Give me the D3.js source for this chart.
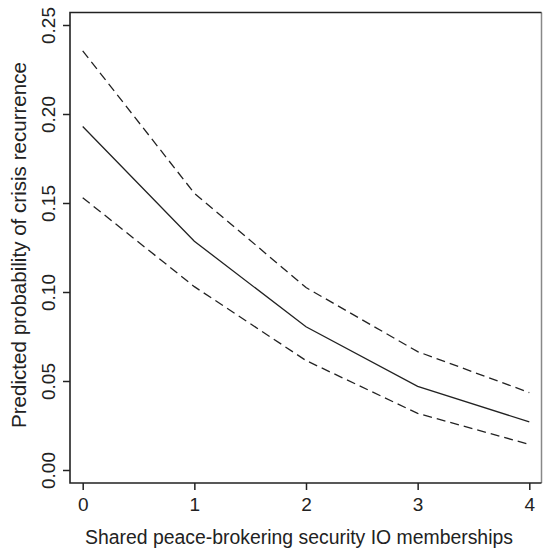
<!DOCTYPE html>
<html>
<head>
<meta charset="utf-8">
<script src="https://cdn.jsdelivr.net/npm/d3@7"></script>
<style>
    body { margin: 0; background: #fff; }
    text { font-family: "Liberation Sans", Arial, sans-serif; fill: #222; }
</style>
</head>
<body>
<div id="chart"></div>
<script>
'use strict';

// shared memberships on the x axis
let memberships = [0, 1, 2, 3, 4];
// predicted probability and the 95% bounds
let predicted = [0.193, 0.1285, 0.0805, 0.047, 0.027];
let upperBound = [0.2355, 0.1555, 0.1025, 0.0665, 0.0435];
let lowerBound = [0.153, 0.103, 0.0615, 0.0318, 0.0144];

let xTicks = [0, 1, 2, 3, 4];
let yTicks = [0, 0.05, 0.10, 0.15, 0.20, 0.25];

let xTitle = 'Shared peace-brokering security IO memberships';
let yTitle = 'Predicted probability of crisis recurrence';

let width = 547,
    height = 551;
let box = {left: 70, right: 541.5, top: 12.5, bottom: 483};

let svg = d3.select('#chart')
    .append('svg')
    .attr('width', width)
    .attr('height', height);

let x = d3.scaleLinear()
    .domain([0, 4])
    .range([82.7, 529.3]);

let y = d3.scaleLinear()
    .domain([0, 0.25])
    .range([470, 25]);

// frame, right side is lighter like in the original
svg.append('line')
    .attr('x1', box.right).attr('x2', box.right)
    .attr('y1', box.top).attr('y2', box.bottom)
    .attr('stroke', '#888')
    .attr('stroke-width', 1.5);
svg.append('path')
    .attr('d', 'M' + box.right + ',' + box.top + 'H' + box.left + 'V' + box.bottom + 'H' + box.right)
    .attr('fill', 'none')
    .attr('stroke', '#222')
    .attr('stroke-width', 1.6);

// y axis ticks
let yAxis = svg.append('g')
    .attr('transform', 'translate(' + box.left + ',0)')
    .call(d3.axisLeft(y)
        .tickValues(yTicks)
        .tickSize(7)
        .tickPadding(0)
        .tickFormat(d3.format('.2f')));
yAxis.select('.domain').remove();
yAxis.selectAll('.tick line')
    .attr('stroke', '#222')
    .attr('stroke-width', 1.5);
yAxis.selectAll('.tick text')
    .attr('x', 0)
    .attr('dy', 0)
    .attr('text-anchor', 'middle')
    .attr('transform', 'translate(-15,0) rotate(-90)')
    .style('font-size', '19px');

// x axis ticks
let xAxis = svg.append('g')
    .attr('transform', 'translate(0,' + box.bottom + ')')
    .call(d3.axisBottom(x)
        .tickValues(xTicks)
        .tickSize(7)
        .tickFormat(d3.format('d')));
xAxis.select('.domain').remove();
xAxis.selectAll('.tick line')
    .attr('stroke', '#222')
    .attr('stroke-width', 1.5);
xAxis.selectAll('.tick text')
    .attr('y', 27.5)
    .attr('dy', 0)
    .style('font-size', '19px');

// lines
let line = d3.line()
    .x(function(d) {
        return x(d[0]);
    })
    .y(function(d) {
        return y(d[1]);
    });

let series = [
    {values: upperBound, dash: '9,5'},
    {values: predicted, dash: null},
    {values: lowerBound, dash: '9,5'}
];

svg.append('g')
    .selectAll('path')
    .data(series)
    .enter().append('path')
    .attr('d', function(s) {
        return line(d3.zip(memberships, s.values));
    })
    .attr('fill', 'none')
    .attr('stroke', '#222')
    .attr('stroke-width', 1.3)
    .attr('stroke-dasharray', function(s) {
        return s.dash;
    });

// axis titles, sized so they span as far as in the original
function fitText(sel, span) {
    sel.style('font-size', '20px');
    let len = sel.node().getComputedTextLength();
    sel.style('font-size', (20 * span / len).toFixed(2) + 'px');
}

let xLabel = svg.append('text')
    .attr('x', 299)
    .attr('y', 544)
    .attr('text-anchor', 'middle')
    .text(xTitle);
fitText(xLabel, 428);

let yLabel = svg.append('text')
    .attr('transform', 'translate(26,245) rotate(-90)')
    .attr('text-anchor', 'middle')
    .text(yTitle);
fitText(yLabel, 366);
</script>
</body>
</html>
